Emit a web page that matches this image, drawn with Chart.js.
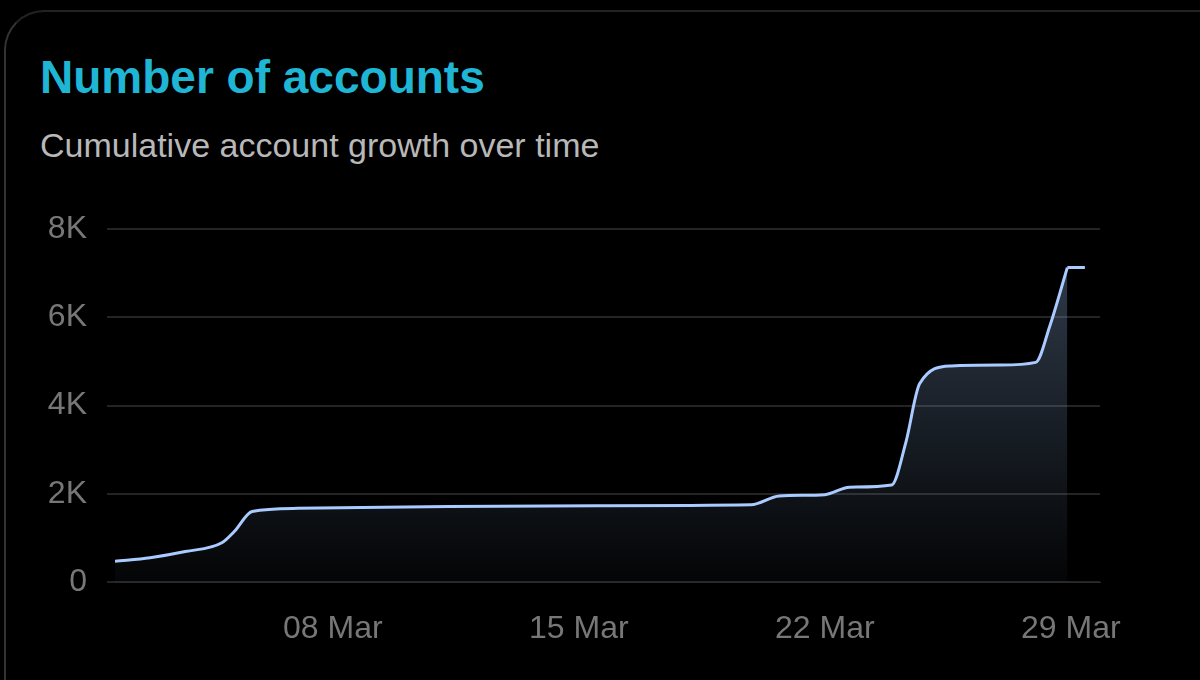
<!DOCTYPE html>
<html><head><meta charset="utf-8">
<script src="https://cdn.jsdelivr.net/npm/chart.js@4"></script>
<style>
body{margin:0;background:#000;width:1200px;height:680px;overflow:hidden;font-family:"Liberation Sans",Arial,sans-serif;position:relative}
#card{position:absolute;left:4px;top:10px;width:1300px;height:800px;border-left:2px solid #333;border-top:2px solid #222;border-radius:40px}
#t{position:absolute;left:40px;top:50px;color:#1fb6d6;font-weight:bold;font-size:46px}
#s{position:absolute;left:40px;top:126px;color:#b8b8b8;font-size:34px}
#w{position:absolute;left:0;top:190px;width:1200px;height:470px}
</style></head><body>
<div id="card"></div>
<div id="t">Number of accounts</div>
<div id="s">Cumulative account growth over time</div>
<div id="w"><canvas id="c"></canvas></div>
<script>
const days=[1.8,2.8,3.8,4.84,5.2,5.7,7.0,11.3,15.5,19.9,20.7,22.0,22.7,23.9,24.3,24.7,25.6,27.0,28.0,28.4,28.9];
const accounts=[470,550,690,890,1150,1600,1670,1710,1730,1750,1950,1980,2150,2200,3150,4500,4900,4920,4980,5800,7130];
const tailDays=[28.9,29.4];
const tailAccounts=[7130,7130];
const xTicks=[8,15,22,29];
const xLabels=["08 Mar","15 Mar","22 Mar","29 Mar"];
const ctx=document.getElementById('c');
const lineCol='#a9cbff';
new Chart(ctx,{type:'line',
data:{datasets:[
{data:days.map((d,i)=>({x:d,y:accounts[i]})),borderColor:lineCol,borderWidth:3,pointRadius:0,cubicInterpolationMode:'monotone',fill:'origin',
 backgroundColor:c=>{const a=c.chart.chartArea;if(!a)return 'rgba(0,0,0,0)';const g=c.chart.ctx.createLinearGradient(0,a.top,0,a.bottom);g.addColorStop(0,'rgba(130,160,200,0.4)');g.addColorStop(1,'rgba(120,150,190,0.03)');return g;}},
{data:tailDays.map((d,i)=>({x:d,y:tailAccounts[i]})),borderColor:lineCol,borderWidth:3,pointRadius:0,fill:false}
]},
options:{responsive:true,maintainAspectRatio:false,animation:false,
layout:{padding:{top:22,right:100,bottom:0,left:0}},
plugins:{legend:{display:false},tooltip:{enabled:false}},
scales:{
x:{type:'linear',min:1.8,max:29.83,grid:{display:false},border:{display:true,color:'#2a2a2a'},
 afterBuildTicks:s=>{s.ticks=xTicks.map(v=>({value:v}));},
 afterFit:s=>{s.height=78;},
 ticks:{color:'#777',font:{size:32},padding:20,maxRotation:0,autoSkip:false,callback:v=>xLabels[xTicks.indexOf(v)]}},
y:{min:0,max:8000,grid:{color:'#242424',lineWidth:2},border:{display:false},
 afterFit:s=>{s.width=115;},
 ticks:{stepSize:2000,color:'#777',font:{size:32},padding:20,callback:v=>v===0?'0':(v/1000)+'K'}}
}}});
</script></body></html>
